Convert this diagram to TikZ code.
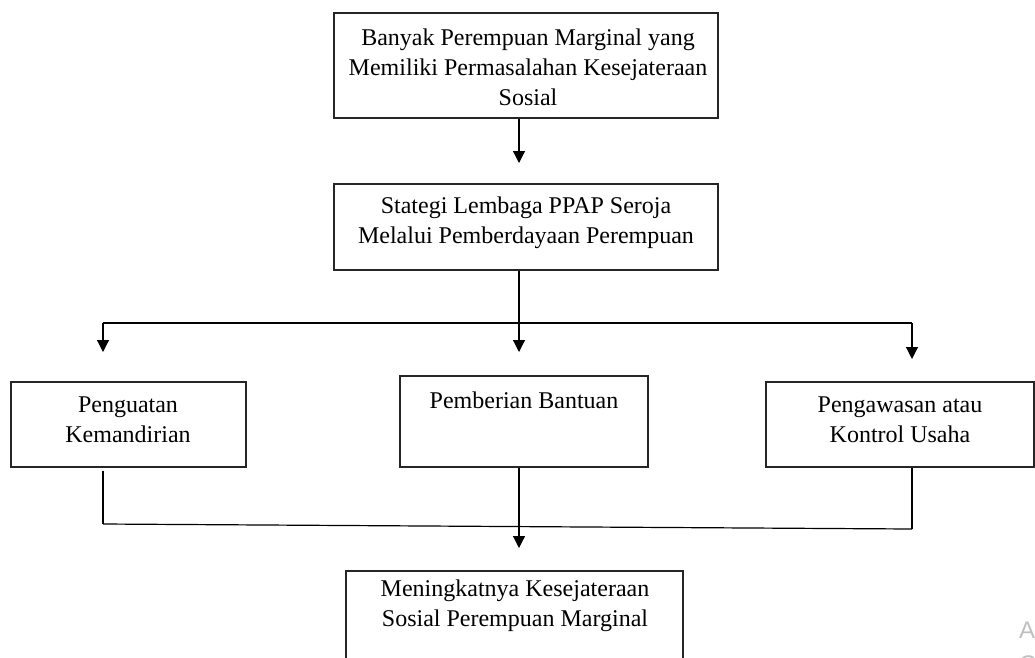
\documentclass[tikz,border=0pt]{standalone}
\usepackage{fontspec}
\setmainfont{Liberation Serif}
\newfontfamily\wmfont{Liberation Sans}
\usetikzlibrary{arrows.meta}
\begin{document}
\begin{tikzpicture}[x=1pt,y=-1pt,
  box/.style={draw=black!85, line width=1.8pt, inner sep=0pt},
  txt/.style={font=\fontsize{24}{30}\selectfont, align=center, inner sep=0pt},
  link/.style={draw=black, line width=1.2pt},
  arr/.style={link, -{Triangle[width=12pt,length=12pt]}},
  wm/.style={font=\wmfont\fontsize{24}{30}\selectfont, text=black!25, inner sep=0pt, anchor=base west}]
\useasboundingbox (0,0) rectangle (1035,657);
\clip (0,0) rectangle (1035,657);
% boxes
\node[box, minimum width=384pt, minimum height=105pt] (b1) at (526,65.5) {};
\node[box, minimum width=384pt, minimum height=86pt] (b2) at (526,227) {};
\node[box, minimum width=235pt, minimum height=85pt] (b3) at (128.5,424.5) {};
\node[box, minimum width=248pt, minimum height=91pt] (b4) at (524,421.5) {};
\node[box, minimum width=268pt, minimum height=85pt] (b5) at (900,424.5) {};
\node[box, minimum width=337pt, minimum height=119pt] (b6) at (514.5,630.5) {};
% texts
\node[txt] (t1) at (528,67) {Banyak Perempuan Marginal yang\\Memiliki Permasalahan Kesejateraan\\Sosial};
\node[txt] (t2) at (526,223) {Stategi Lembaga PPAP Seroja\\Melalui Pemberdayaan Perempuan};
\node[txt] (t3) at (128,420) {Penguatan\\Kemandirian};
\node[txt] (t4) at (524,400) {Pemberian Bantuan};
\node[txt] (t5) at (900,420) {Pengawasan atau\\Kontrol Usaha};
\node[txt] (t6) at (515,606) {Meningkatnya Kesejateraan\\Sosial Perempuan Marginal};
% connectors
\coordinate (p1) at (519,163);
\draw[arr] (b1.south -| p1) -- (p1);
\coordinate (h1) at (519,323);
\coordinate (hl) at (103,323);
\coordinate (hr) at (912,323);
\coordinate (al) at (103,352);
\coordinate (am) at (519,352);
\coordinate (ar) at (912,359);
\draw[link] (b2.south -| h1) -- (h1);
\draw[link] (hl) -- (hr);
\draw[arr] (hl) -- (al);
\draw[arr] (h1) -- (am);
\draw[arr] (hr) -- (ar);
\coordinate (ql) at (103,524);
\coordinate (qr) at (912,529);
\coordinate (a6) at (519,548);
\draw[link, shorten <=3pt] (b3.south -| ql) -- (ql);
\draw[link] (ql) -- (qr);
\draw[link] (b5.south -| qr) -- (qr);
\draw[arr] (b4.south -| a6) -- (a6);
% watermark
\node[wm] (w1) at (1019,638) {A};
\node[wm] (w2) at (1019,672) {C};
\end{tikzpicture}
\end{document}
